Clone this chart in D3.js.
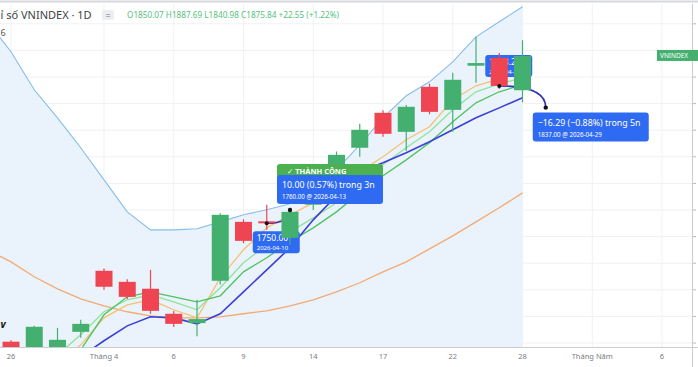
<!DOCTYPE html>
<html>
<head>
<meta charset="utf-8">
<script src="https://cdn.jsdelivr.net/npm/d3@7"></script>
<style>
  body { margin: 0; background: #fff; }
  svg { display: block; font-family: "Noto Sans", "DejaVu Sans", sans-serif; }
</style>
</head>
<body>
<script>
'use strict';

// daily candles, Chỉ số VNINDEX (index 0 = 26/03)
const dates = ["2026-03-26","2026-03-27","2026-03-30","2026-03-31","2026-04-01","2026-04-02","2026-04-03",
  "2026-04-06","2026-04-07","2026-04-08","2026-04-09","2026-04-10","2026-04-13","2026-04-14","2026-04-15",
  "2026-04-16","2026-04-17","2026-04-20","2026-04-21","2026-04-22","2026-04-23","2026-04-24","2026-04-28"]
const open  = [1661, 1652, 1656, 1668.4, 1714.3, 1706, 1700.8, 1682, 1675, 1706.8, 1751.1, 1751.5, 1739.1,
  1764, 1786, 1806.8, 1833.1, 1818.8, 1852.6, 1835.3, 1868.5, 1874.4, 1850.07]
const high  = [1662, 1673, 1671.4, 1677.4, 1716, 1708, 1715, 1684, 1692.5, 1757.5, 1753, 1763.9, 1761.7,
  1788, 1804, 1824.8, 1835, 1839, 1855, 1863.2, 1890.2, 1878, 1887.69]
const low   = [1650, 1648, 1652, 1663.9, 1700, 1693, 1682, 1672, 1665, 1704, 1735, 1745.1, 1733.8,
  1760, 1782, 1800, 1815, 1804.5, 1832, 1818.8, 1855.6, 1851, 1840.98]
const close = [1654, 1672.2, 1662.4, 1674.4, 1702.3, 1694.7, 1684.2, 1674.4, 1678, 1756.4, 1736.8, 1750.0, 1758.6,
  1785, 1801.5, 1820.3, 1817.3, 1837.6, 1833.8, 1857.9, 1870.5, 1853.29, 1875.84]

// indicator lines, first value belongs to bar index -1
const bandUpper = [1901.5, 1879.0, 1850.4, 1829.3, 1806.8, 1782.7, 1758.6, 1745.1, 1745.1, 1745.9, 1751.1, 1756.4,
  1760.2, 1764.7, 1776.7, 1790.2, 1809.0, 1829.3, 1845.9, 1856.4, 1871.4, 1890.2, 1901.5, 1912.8]
const maLong = [1730.1, 1721.0, 1709.8, 1700.7, 1693.2, 1688.0, 1683.5, 1680.4, 1678.9, 1678.9, 1679.7, 1682.0,
  1684.2, 1688.0, 1692.5, 1698.5, 1705.3, 1713.5, 1721.0, 1730.8, 1740.6, 1751.1, 1761.7, 1772.9]
const maMid = [null, null, null, null, 1649.6, 1661.7, 1672.9, 1679.7, 1678.9, 1674.4, 1682.0, 1698.5,
  1715.0, 1731.6, 1752.6, 1770.7, 1788.7, 1795.5, 1803.0, 1811.3, 1820.3, 1829.3, 1836.8, 1844.4]
const maFast = [null, null, null, 1645.9, 1658.6, 1678.9, 1688.7, 1692.5, 1685.0, 1678.9, 1709.0, 1730.1,
  1746.6, 1756.4, 1765.4, 1775.2, 1788.7, 1800.0, 1812.8, 1822.6, 1842.9, 1853.4, 1858.6, 1863.2]
const maShort = [null, null, null, 1651.1, 1666.2, 1683.5, 1692.5, 1696.2, 1691.0, 1685.0, 1701.5, 1720.3,
  1733.8, 1743.6, 1754.1, 1765.4, 1780.5, 1794.0, 1806.8, 1818.8, 1835.3, 1848.9, 1854.9, 1859.4]
const maShort2 = [null, null, null, null, 1654.9, 1681.2, 1694.7, 1698.5, 1694.7, 1691.0, 1695.5, 1713.5,
  1724.1, 1736.1, 1746.6, 1758.6, 1772.9, 1785.7, 1797.7, 1810.5, 1826.3, 1840.6, 1848.9, 1854.1]

// x axis ticks (bar index) and labels
const tickIdx = [0, 4, 7, 10, 13, 16, 19, 22, 25, 28]
const tickLabels = ["26", "Tháng 4", "6", "9", "14", "17", "22", "28", "Tháng Năm", "6"]
const priceTicks = [1660, 1680, 1700, 1720, 1740, 1760, 1780, 1800, 1820, 1840, 1860, 1880, 1900]

// forecast drawings
const fcSrcIdx = [11, 21]
const fcSrcPrice = [1750.00, 1853.29]
const fcSrcDate = ["2026-04-10", "2026-04-24"]
const fcDstIdx = [12, 23]
const fcDstPrice = [1760.00, 1837.00]
const fcDstDate = ["2026-04-13", "2026-04-29"]
const fcChange = ["10.00 (0.57%) trong 3n", "−16.29 (−0.88%) trong 5n"]
const fcSuccess = [true, false]

const m = {
  width: 698, height: 367,
  plotLeft: 0, plotRight: 692, plotTop: 4, plotBottom: 347,
  candleW: 17
}

const colors = {
  up: "#44b06f", down: "#ef4452", grid: "#eff1f4",
  band: "#86bde9", bandFill: "#eaf3fc", long: "#f3aa72",
  mid: "#3b3fd6", fast: "#f6c173", short: "#8fe39a", short2: "#4fc25e",
  blue: "#2f6bf2", green: "#4caf50", curve: "#3434b4"
}

const svg = d3.select('body').append('svg')
  .attr('width', m.width)
  .attr('height', m.height)

const x = d3.scaleLinear().domain([0, 28]).range([11, 662])
const y = d3.scaleLinear().domain([1657, 1914]).range([m.plotBottom, 5.2])

svg.append('clipPath').attr('id', 'plot')
  .append('rect')
  .attr('x', m.plotLeft).attr('y', m.plotTop)
  .attr('width', m.plotRight - m.plotLeft).attr('height', m.plotBottom - m.plotTop)

svg.append('line')
  .attr('x1', 0).attr('x2', m.width).attr('y1', 1.5).attr('y2', 1.5)
  .attr('stroke', '#d6d8dc').attr('stroke-width', 2)

drawGrid()
const plot = svg.append('g').attr('clip-path', 'url(#plot)')
drawIndicators()
drawForecastSources()
drawCandles()
drawForecastTargets()
drawAxes()
drawLegend()

function drawGrid() {
  const g = svg.append('g')
  g.selectAll('.vg').data(tickIdx).enter().append('line')
    .attr('x1', d => x(d)).attr('x2', d => x(d))
    .attr('y1', m.plotTop).attr('y2', m.plotBottom)
    .attr('stroke', colors.grid)
  g.selectAll('.hg').data(priceTicks).enter().append('line')
    .attr('x1', m.plotLeft).attr('x2', m.plotRight)
    .attr('y1', d => y(d)).attr('y2', d => y(d))
    .attr('stroke', colors.grid)
}

// band fill, band line and moving averages
function drawIndicators() {
  const idx = (d, i) => i - 1
  const area = d3.area()
    .x((d, i) => x(idx(d, i)))
    .y0(m.plotBottom + 5)
    .y1(d => y(d))
  plot.append('path').datum(bandUpper)
    .attr('d', area)
    .attr('fill', colors.bandFill)

  const line = d3.line()
    .defined(d => d !== null)
    .x((d, i) => x(idx(d, i)))
    .y(d => y(d))

  const series = [
    [bandUpper, colors.band, 1.1],
    [maLong, colors.long, 1.3],
    [maFast, colors.fast, 1.3],
    [maShort, colors.short, 1.3],
    [maShort2, colors.short2, 1.3],
    [maMid, colors.mid, 1.6]
  ]
  series.forEach(s => {
    plot.append('path').datum(s[0])
      .attr('d', line)
      .attr('fill', 'none')
      .attr('stroke', s[1])
      .attr('stroke-width', s[2])
  })
}

function drawCandles() {
  const bars = d3.range(open.length)
  const g = plot.append('g')
  g.selectAll('.wick').data(bars).enter().append('line')
    .attr('x1', i => x(i)).attr('x2', i => x(i))
    .attr('y1', i => y(high[i])).attr('y2', i => y(low[i]))
    .attr('stroke', i => close[i] >= open[i] ? colors.up : colors.down)
    .attr('stroke-width', 1.2)
  g.selectAll('.body').data(bars).enter().append('rect')
    .attr('x', i => x(i) - m.candleW / 2)
    .attr('width', m.candleW)
    .attr('y', i => y(Math.max(open[i], close[i])))
    .attr('height', i => Math.max(1.5, Math.abs(y(open[i]) - y(close[i]))))
    .attr('fill', i => close[i] >= open[i] ? colors.up : colors.down)
}

// source boxes and connecting curves (drawn under the candles)
function drawForecastSources() {
  fcSrcIdx.forEach((si, k) => {
    const sx = x(si), sy = y(fcSrcPrice[k])
    const tx = x(fcDstIdx[k]), ty = y(fcDstPrice[k])
    const boxY = fcSuccess[k] ? sy + 8 : sy - 31
    const g = plot.append('g')
    g.append('rect')
      .attr('x', sx - 14).attr('y', boxY)
      .attr('width', 47).attr('height', 22).attr('rx', 3)
      .attr('fill', colors.blue)
    g.append('text')
      .attr('x', sx - 10).attr('y', boxY + 10)
      .attr('fill', '#fff').style('font-size', '8.5px')
      .text(d3.format('.2f')(fcSrcPrice[k]))
    g.append('text')
      .attr('x', sx - 10).attr('y', boxY + 19)
      .attr('fill', '#fff').style('font-size', '6px')
      .text(fcSrcDate[k])
    g.append('path')
      .attr('d', `M${sx},${sy}Q${tx},${sy} ${tx},${ty}`)
      .attr('fill', 'none')
      .attr('stroke', colors.curve)
      .attr('stroke-width', 1.6)
  })
}

function drawForecastTargets() {
  const widths = [106, 116]
  fcDstIdx.forEach((di, k) => {
    const sx = x(fcSrcIdx[k]), sy = y(fcSrcPrice[k])
    const tx = x(di), ty = y(fcDstPrice[k])
    const g = plot.append('g')
    g.append('circle').attr('cx', sx).attr('cy', sy).attr('r', 2).attr('fill', '#111')
    g.append('circle').attr('cx', tx).attr('cy', ty).attr('r', 2.2).attr('fill', '#111')

    const left = tx - 13
    let boxY
    if (fcSuccess[k]) {
      boxY = ty - 35
      g.append('rect')
        .attr('x', left).attr('y', boxY - 11)
        .attr('width', widths[k]).attr('height', 14).attr('rx', 3)
        .attr('fill', colors.green)
      g.append('text')
        .attr('x', left + 10).attr('y', boxY - 1.5)
        .attr('fill', '#fff').style('font-size', '7.5px').style('font-weight', 'bold')
        .text('✓ THÀNH CÔNG')
    } else {
      boxY = ty + 5
    }
    g.append('rect')
      .attr('x', left).attr('y', boxY)
      .attr('width', widths[k]).attr('height', 29).attr('rx', 3)
      .attr('fill', colors.blue)
    g.append('text')
      .attr('x', left + 5).attr('y', boxY + 13)
      .attr('fill', '#fff').style('font-size', '8.8px')
      .text(fcChange[k])
    g.append('text')
      .attr('x', left + 5).attr('y', boxY + 24)
      .attr('fill', '#fff').style('font-size', '6.2px')
      .text(d3.format('.2f')(fcDstPrice[k]) + ' @ ' + fcDstDate[k])
  })
}

function drawAxes() {
  svg.append('line')
    .attr('x1', 0).attr('x2', m.width)
    .attr('y1', m.plotBottom + 0.5).attr('y2', m.plotBottom + 0.5)
    .attr('stroke', '#c9ccd1')
  svg.append('line')
    .attr('x1', m.plotRight + 0.5).attr('x2', m.plotRight + 0.5)
    .attr('y1', m.plotTop).attr('y2', m.height)
    .attr('stroke', '#c9ccd1')

  svg.selectAll('.xt').data(tickIdx).enter().append('text')
    .attr('x', d => x(d)).attr('y', 359)
    .attr('text-anchor', 'middle')
    .attr('fill', '#7a7d85')
    .style('font-size', '7.5px')
    .text((d, i) => tickLabels[i])

  // right price scale: only the tick marks fit inside the window
  svg.selectAll('.yt').data(priceTicks).enter().append('line')
    .attr('x1', m.plotRight + 1).attr('x2', m.plotRight + 4)
    .attr('y1', d => y(d)).attr('y2', d => y(d))
    .attr('stroke', '#b5b8be')

  const last = close[close.length - 1]
  svg.append('rect')
    .attr('x', 657).attr('y', y(last) - 6)
    .attr('width', 46).attr('height', 11)
    .attr('fill', colors.up)
  svg.append('text')
    .attr('x', 660).attr('y', y(last) + 2)
    .attr('fill', '#fff')
    .style('font-size', '6.5px')
    .text('VNINDEX')
}

function drawLegend() {
  // the window shows the title from its third letter on
  svg.append('text')
    .attr('x', 0.5).attr('y', 19)
    .attr('fill', '#3d3f45')
    .style('font-size', '11px')
    .text('ỉ số VNINDEX · 1D')
  svg.append('rect')
    .attr('x', 102).attr('y', 10)
    .attr('width', 12).attr('height', 10).attr('rx', 2)
    .attr('fill', '#eceef1')
  svg.append('text')
    .attr('x', 108).attr('y', 18.5)
    .attr('text-anchor', 'middle')
    .attr('fill', '#777')
    .style('font-size', '9px')
    .text('=')
  const i = close.length - 1
  const chg = close[i] - close[i - 1]
  svg.append('text')
    .attr('x', 127).attr('y', 18)
    .attr('fill', '#55bf80')
    .style('font-size', '8.2px')
    .text('O' + open[i].toFixed(2) + ' H' + high[i].toFixed(2) + ' L' + low[i].toFixed(2) +
      ' C' + close[i].toFixed(2) + ' +' + chg.toFixed(2) + ' (+' + (chg / close[i - 1] * 100).toFixed(2) + '%)')
  svg.append('text')
    .attr('x', 0.5).attr('y', 36)
    .attr('fill', '#555')
    .style('font-size', '9px')
    .text('6')
  svg.append('text')
    .attr('x', 0.5).attr('y', 328)
    .attr('fill', '#111')
    .style('font-size', '10px').style('font-weight', 'bold').style('font-style', 'italic')
    .text('v')
}
</script>
</body>
</html>
